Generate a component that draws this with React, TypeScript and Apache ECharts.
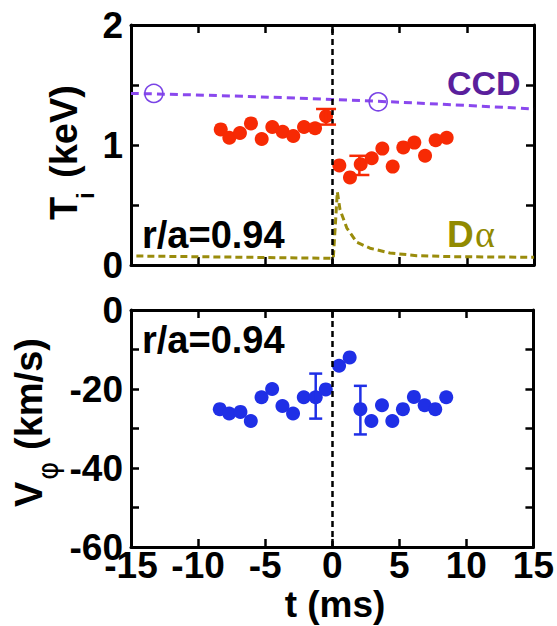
import React, { useEffect, useRef } from "react";
import * as echarts from "echarts";

// ---- data ----
const tiT = [-8.32, -7.68, -6.89, -6.07, -5.27, -4.48, -3.71, -2.92, -2.12, -1.3, -0.48, 0.51, 1.3, 2.1, 2.92, 3.71, 4.48, 5.27, 6.09, 6.89, 7.68, 8.5];
const tiV = [1.13, 1.06, 1.1, 1.18, 1.05, 1.15, 1.11, 1.075, 1.15, 1.14, 1.24, 0.83, 0.73, 0.84, 0.89, 0.97, 0.82, 0.98, 1.02, 0.91, 1.04, 1.06];
const tiErrT = [-0.48, 2.0];
const tiErrLo = [1.17, 0.75];
const tiErrHi = [1.3, 0.91];

const ccdLineT = [-15, 0, 15];
const ccdLineV = [1.43, 1.38, 1.3];
const ccdPtT = [-13.3, 3.4];
const ccdPtV = [1.43, 1.36];

const daT = [-14.6, -7, -0.1, 0.06, 0.36, 0.56, 1.06, 1.8, 2.79, 4.28, 6.27, 8.75, 15];
const daV = [0.075, 0.065, 0.056, 0.056, 0.61, 0.46, 0.31, 0.19, 0.14, 0.1, 0.078, 0.07, 0.064];

const vT = [-8.38, -7.68, -6.84, -6.07, -5.27, -4.48, -3.71, -2.92, -2.12, -1.23, -0.48, 0.51, 1.3, 2.1, 2.92, 3.71, 4.48, 5.27, 6.09, 6.89, 7.68, 8.5];
const vV = [-25.1, -26.2, -25.8, -28.1, -22.1, -20.0, -24.3, -26.2, -22.1, -22.1, -20.1, -14.1, -12.0, -25.1, -28.1, -24.1, -28.1, -25.1, -22.0, -24.1, -25.1, -22.1];
const vErrT = [-1.23, 2.1];
const vErrLo = [-27.5, -31.5];
const vErrHi = [-16.1, -19.2];

const xMin = -15, xMax = 15, xStep = 5;
const tiMin = 0, tiMax = 2, tiStep = 0.5;
const vMin = -60, vMax = 0, vStep = 10;

// ---- styles ----
const RED = "#f72a04";
const BLUE = "#1f2fe6";
const PURPLE_LINE = "#8a48ee";
const PURPLE_TXT = "#5a1f9c";
const OLIVE = "#9a8c0c";
const OLIVE_TXT = "#918a00";
const FONT = "'Liberation Sans', Arial, sans-serif";

function zip(a: number[], b: number[]) {
  return a.map((v, i) => [v, b[i]]);
}

function errRender(color: string, cap: number) {
  return (params: any, api: any) => {
    const x = api.value(0);
    const lo = api.coord([x, api.value(1)]);
    const hi = api.coord([x, api.value(2)]);
    const st = { stroke: color, lineWidth: 2.5 };
    const h = cap / 2;
    return {
      type: "group",
      children: [
        { type: "line", shape: { x1: lo[0], y1: lo[1], x2: hi[0], y2: hi[1] }, style: st },
        { type: "line", shape: { x1: hi[0] - h, y1: hi[1], x2: hi[0] + h, y2: hi[1] }, style: st },
        { type: "line", shape: { x1: lo[0] - h, y1: lo[1], x2: lo[0] + h, y2: lo[1] }, style: st },
      ],
    };
  };
}

const axisLine = { show: true, onZero: false, lineStyle: { color: "#000", width: 3 } };
const tick = { show: true, inside: true, length: 8, lineStyle: { color: "#000", width: 2.5 } };
const label = { fontFamily: FONT, fontWeight: "bold" as const, fontSize: 37, color: "#000" };

export default function App() {
  const ref = useRef<HTMLDivElement>(null);
  useEffect(() => {
    if (!ref.current) return;
    const chart = echarts.init(ref.current, undefined, { renderer: "svg" });
    const xBase = (gridIndex: number, position: "top" | "bottom", showLabel: boolean) => ({
      type: "value" as const,
      gridIndex,
      position,
      min: xMin,
      max: xMax,
      interval: xStep,
      axisLine,
      axisTick: tick,
      splitLine: { show: false },
      axisLabel: { show: showLabel, margin: 3, ...label, lineHeight: 30 },
    });
    const vline = {
      silent: true,
      symbol: "none",
      label: { show: false },
      lineStyle: { color: "#000", width: 2.5, type: [6, 4] },
      data: [{ xAxis: 0 }],
    };
    chart.setOption({
      animation: false,
      backgroundColor: "#fff",
      grid: [
        { left: 131, top: 25, width: 403, height: 240 },
        { left: 131, top: 310, width: 403, height: 237 },
      ],
      xAxis: [
        xBase(0, "bottom", false),
        xBase(0, "top", false),
        xBase(1, "bottom", true),
        xBase(1, "top", false),
      ],
      yAxis: [
        {
          type: "value", gridIndex: 0, position: "left", min: tiMin, max: tiMax, interval: tiStep,
          axisLine, axisTick: tick, splitLine: { show: false },
          axisLabel: { ...label, margin: 8, formatter: (v: number) => (Number.isInteger(v) ? String(v) : "") },
        },
        {
          type: "value", gridIndex: 0, position: "right", min: tiMin, max: tiMax, interval: tiStep,
          axisLine, axisTick: tick, splitLine: { show: false }, axisLabel: { show: false },
        },
        {
          type: "value", gridIndex: 1, position: "left", min: vMin, max: vMax, interval: vStep,
          axisLine, axisTick: tick, splitLine: { show: false },
          axisLabel: { ...label, margin: 8, formatter: (v: number) => (v % 20 === 0 ? String(v) : "") },
        },
        {
          type: "value", gridIndex: 1, position: "right", min: vMin, max: vMax, interval: vStep,
          axisLine, axisTick: tick, splitLine: { show: false }, axisLabel: { show: false },
        },
      ],
      series: [
        {
          name: "CCD", type: "line", xAxisIndex: 0, yAxisIndex: 0, data: zip(ccdLineT, ccdLineV),
          smooth: true, showSymbol: false, lineStyle: { color: PURPLE_LINE, width: 3, type: [8, 5] }, z: 2,
        },
        {
          name: "CCD points", type: "scatter", xAxisIndex: 0, yAxisIndex: 0, data: zip(ccdPtT, ccdPtV),
          symbol: "circle", symbolSize: 18,
          itemStyle: { color: "rgba(0,0,0,0)", borderColor: "#7a44e6", borderWidth: 1.6, opacity: 1 }, z: 3,
        },
        {
          name: "Dα", type: "line", xAxisIndex: 0, yAxisIndex: 0, data: zip(daT, daV),
          showSymbol: false, lineStyle: { color: OLIVE, width: 3, type: [7, 4] }, z: 2,
        },
        {
          name: "Ti", type: "scatter", xAxisIndex: 0, yAxisIndex: 0, data: zip(tiT, tiV),
          symbolSize: 14, itemStyle: { color: RED, opacity: 1 }, z: 4, markLine: vline,
        },
        {
          name: "Ti err", type: "custom", xAxisIndex: 0, yAxisIndex: 0,
          data: tiErrT.map((t, i) => [t, tiErrLo[i], tiErrHi[i]]),
          renderItem: errRender(RED, 20), z: 5,
        },
        {
          name: "Vphi", type: "scatter", xAxisIndex: 2, yAxisIndex: 2, data: zip(vT, vV),
          symbolSize: 14, itemStyle: { color: BLUE, opacity: 1 }, z: 4, markLine: vline,
        },
        {
          name: "Vphi err", type: "custom", xAxisIndex: 2, yAxisIndex: 2,
          data: vErrT.map((t, i) => [t, vErrLo[i], vErrHi[i]]),
          renderItem: errRender(BLUE, 13), z: 5,
        },
      ],
      graphic: [
        { type: "text", left: 447, top: 66, style: { text: "CCD", fill: PURPLE_TXT, font: `bold 34px ${FONT}` } },
        { type: "text", x: 142, y: 235, style: { text: "r/a=0.94", fill: "#000", font: `bold 38px ${FONT}`, textVerticalAlign: "middle" } },
        { type: "text", x: 142, y: 340, style: { text: "r/a=0.94", fill: "#000", font: `bold 38px ${FONT}`, textVerticalAlign: "middle" } },
        { type: "text", x: 447, y: 234, style: { text: "D", fill: OLIVE_TXT, font: `bold 37px ${FONT}`, textVerticalAlign: "middle" } },
        { type: "text", x: 475, y: 234, style: { text: "α", fill: OLIVE_TXT, font: `38px 'Liberation Serif', serif`, textVerticalAlign: "middle" } },
        { type: "text", x: 335, y: 604, style: { text: "t (ms)", fill: "#000", font: `bold 37px ${FONT}`, textAlign: "center", textVerticalAlign: "middle", lineHeight: 30 } },
        {
          type: "group", x: 64, y: 151, rotation: Math.PI / 2,
          children: [
            { type: "text", x: -69, y: 0, style: { text: "T", fill: "#000", font: `bold 38px ${FONT}`, textVerticalAlign: "middle" } },
            { type: "text", x: -48, y: 21, style: { text: "i", fill: "#000", font: `bold 24px ${FONT}`, textVerticalAlign: "middle" } },
            { type: "text", x: -27, y: 0, style: { text: "(keV)", fill: "#000", font: `bold 38px ${FONT}`, textVerticalAlign: "middle" } },
          ],
        },
        {
          type: "group", x: 29, y: 422, rotation: Math.PI / 2,
          children: [
            { type: "text", x: -85, y: 0, style: { text: "V", fill: "#000", font: `bold 38px ${FONT}`, textVerticalAlign: "middle" } },
            { type: "text", x: -58, y: 19, style: { text: "φ", fill: "#000", font: `28px 'DejaVu Sans', sans-serif`, textVerticalAlign: "middle" } },
            { type: "text", x: -28, y: 0, style: { text: "(km/s)", fill: "#000", font: `bold 38px ${FONT}`, textVerticalAlign: "middle" } },
          ],
        },
      ],
    });
    return () => chart.dispose();
  }, []);
  return <div ref={ref} style={{ width: 557, height: 626, position: "absolute", left: 0, top: 0 }} />;
}
